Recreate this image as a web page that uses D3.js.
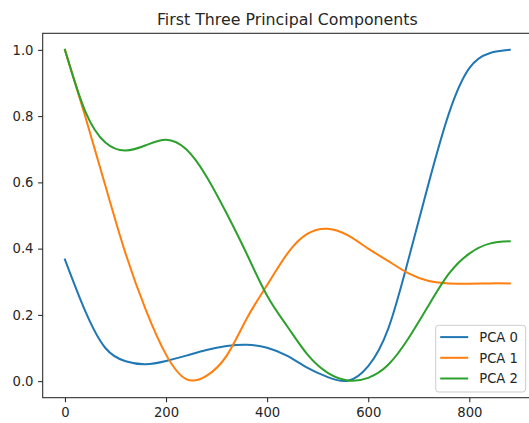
<!DOCTYPE html>
<html lang="en">
  <head>
    <meta charset="utf-8">
    <script src="https://cdn.jsdelivr.net/npm/d3@7"></script>
    <style>
      body { margin: 0; background: #fff; }
      text { font-family: 'DejaVu Sans', sans-serif; fill: #262626; }
    </style>
  </head>
  <body>
    <svg class="chart"></svg>
  </body>
  <script>
    // sample positions along the x axis
    var xs = [0, 40, 80, 120, 160, 200, 240, 280, 320, 360, 400, 440, 480, 520, 560, 600, 640, 680, 720, 760, 800, 840, 880];

    var pca0 = [0.367, 0.212, 0.10, 0.06, 0.051, 0.061, 0.077, 0.094, 0.106, 0.110, 0.101, 0.076, 0.040, 0.012, 0.001, 0.045, 0.16, 0.37, 0.60, 0.81, 0.945, 0.99, 1.0];
    var pca1 = [1.0, 0.80, 0.59, 0.385, 0.215, 0.08, 0.006, 0.016, 0.077, 0.19, 0.29, 0.385, 0.445, 0.46, 0.44, 0.40, 0.362, 0.325, 0.302, 0.295, 0.294, 0.295, 0.295];
    var pca2 = [1.0, 0.815, 0.72, 0.696, 0.712, 0.729, 0.70, 0.618, 0.506, 0.383, 0.258, 0.165, 0.08, 0.025, 0.002, 0.01, 0.05, 0.13, 0.23, 0.325, 0.385, 0.415, 0.422];

    var seriesNames = ['PCA 0', 'PCA 1', 'PCA 2'];
    var xTicks = [0, 200, 400, 600, 800];
    var yTicks = [0.0, 0.2, 0.4, 0.6, 0.8, 1.0];
    var title = 'First Three Principal Components';

    var series = [pca0, pca1, pca2].map(function(vals, i){
      return {name: seriesNames[i], values: vals.map(function(v, j){ return {x: xs[j], y: v}; })};
    });

    var screenWidth = 529, screenHeight = 423;
    var box = {left: 42.7, right: 532, top: 33.3, bottom: 397.7};

    var svg = d3.select('.chart')
                .attr('width', screenWidth)
                .attr('height', screenHeight);

    // matplotlib style 5% margins round the data
    var xExt = d3.extent(xs);
    var xPad = (xExt[1] - xExt[0]) * 0.05;
    var xScale = d3.scaleLinear()
                   .domain([xExt[0] - xPad, xExt[1] + xPad])
                   .range([box.left, box.right]);

    var yScale = d3.scaleLinear()
                   .domain([-0.05, 1.05])
                   .range([box.bottom, box.top]);

    var colors = d3.scaleOrdinal()
                   .domain(seriesNames)
                   .range(['#1f77b4', '#ff7f0e', '#2ca02c']);

    var line = d3.line()
                 .x(function(d){ return xScale(d.x); })
                 .y(function(d){ return yScale(d.y); })
                 .curve(d3.curveNatural);

    svg.append('g').classed('lines', true)
       .selectAll('path')
       .data(series)
       .enter()
       .append('path')
       .attr('d', function(d){ return line(d.values); })
       .attr('fill', 'none')
       .attr('stroke', function(d){ return colors(d.name); })
       .attr('stroke-width', 2)
       .attr('stroke-linejoin', 'round')
       .attr('stroke-linecap', 'square');

    // axes
    var xAxis = d3.axisBottom(xScale).tickValues(xTicks).tickSize(4.6).tickPadding(4.6).tickFormat(d3.format('d'));
    var gx = svg.append('g').classed('xAxis', true)
                .attr('transform', 'translate(0,' + box.bottom + ')')
                .call(xAxis);

    var yAxis = d3.axisLeft(yScale).tickValues(yTicks).tickSize(4.6).tickPadding(4.6).tickFormat(d3.format('.1f'));
    var gy = svg.append('g').classed('yAxis', true)
                .attr('transform', 'translate(' + box.left + ',0)')
                .call(yAxis);

    [gx, gy].forEach(function(g){
      g.select('.domain').remove();
      g.selectAll('.tick line').attr('stroke', '#262626').attr('stroke-width', 1.05);
      g.selectAll('.tick text').style('font-size', '13.2px').attr('fill', '#262626');
    });
    gx.selectAll('.tick text').attr('dy', '0.74em');

    // spines
    svg.append('rect')
       .attr('x', box.left)
       .attr('y', box.top)
       .attr('width', box.right - box.left)
       .attr('height', box.bottom - box.top)
       .attr('fill', 'none')
       .attr('stroke', '#262626')
       .attr('stroke-width', 1.05);

    svg.append('text')
       .attr('x', (box.left + box.right) / 2)
       .attr('y', 25.3)
       .attr('text-anchor', 'middle')
       .style('font-size', '15.8px')
       .text(title);

    // legend
    var legend = svg.append('g').classed('legend', true)
                    .attr('transform', 'translate(435.7,325.3)');

    legend.append('rect')
          .attr('x', 0).attr('y', 0)
          .attr('width', 90).attr('height', 66.7)
          .attr('rx', 3)
          .attr('fill', '#fff').attr('fill-opacity', 0.8)
          .attr('stroke', '#cccccc').attr('stroke-width', 1);

    var legendLines = legend.selectAll('g.legendLine')
                            .data(series)
                            .enter()
                            .append('g')
                            .classed('legendLine', true)
                            .attr('transform', function(d, i){ return 'translate(0,' + (11.8 + i * 20.7) + ')'; });

    legendLines.append('line')
               .attr('x1', 4.5).attr('x2', 32.5)
               .attr('y1', 0).attr('y2', 0)
               .attr('stroke', function(d){ return colors(d.name); })
               .attr('stroke-width', 2);

    legendLines.append('text')
               .attr('x', 43.5)
               .attr('y', 0)
               .attr('dy', '0.36em')
               .style('font-size', '13.2px')
               .text(function(d){ return d.name; });
  </script>
</html>
